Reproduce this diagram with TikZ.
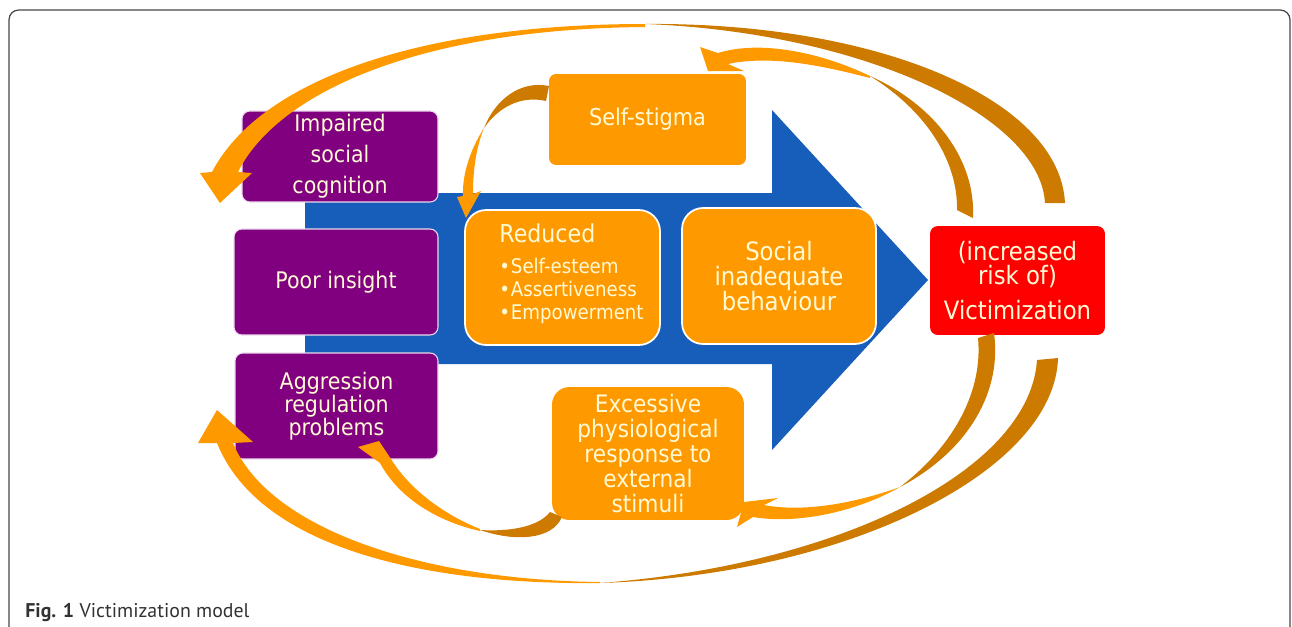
\documentclass[tikz,border=0pt]{standalone}
\usepackage{fontspec}
\newfontfamily\boxfont{DejaVu Sans}[FakeStretch = 0.9]
\newfontfamily\capfont{PT Sans}
\usetikzlibrary{calc}

\definecolor{vpurple}{RGB}{128,0,128}
\definecolor{vorange}{RGB}{255,153,0}
\definecolor{vbrown}{RGB}{204,122,0}
\definecolor{vblue}{RGB}{23,94,187}
\definecolor{vred}{RGB}{255,0,0}
\definecolor{vtext}{RGB}{255,250,212}
\definecolor{vframe}{RGB}{70,70,70}
\definecolor{vcap}{RGB}{50,50,50}

\tikzset {
    box/.style = {rectangle, inner sep = 0pt, align = center, text = vtext},
    purple box/.style = {box, fill = vpurple, draw = white!85!vpurple, line width = 0.6pt, rounded corners = 4.5pt},
    orange box/.style = {box, fill = vorange, rounded corners = 4pt},
    soft box/.style = {box, fill = vorange, rounded corners = 10pt},
    white box/.style = {box, fill = vorange, draw = white, line width = 1pt, rounded corners = 12pt},
    red box/.style = {box, fill = vred, rounded corners = 4.5pt},
    item/.style = {anchor = base west, inner sep = 0pt, text = vtext},
    ribbon front/.style = {fill = vorange},
    ribbon back/.style = {fill = vbrown}
}

\begin{document}
\begin{tikzpicture}[x = 0.02cm, y = -0.02cm]
    \useasboundingbox (0, 0) rectangle (1292, 626);
    \begin{scope}
        \clip (0, 0) rectangle (1292, 626);
        \draw [vframe, line width = 0.7pt, rounded corners = 5.5pt] (9, 10) rectangle (1290, 660);
    \end{scope}
    % blue arrow
    \fill [vblue] (305, 193) -- (772, 193) -- (772, 110) -- (928, 280)
        -- (772, 450) -- (772, 364) -- (305, 364) -- cycle;
    % boxes
    \node (impaired) [purple box, minimum width = 3.92cm, minimum height = 1.82cm,
        font = \boxfont\fontsize{13}{17.6}\selectfont] at (340, 156.5) {Impaired\\social\\cognition};
    \node (insight) [purple box, minimum width = 4.08cm, minimum height = 2.12cm,
        font = \boxfont\fontsize{13}{13.1}\selectfont] at (336, 282) {Poor insight};
    \node (aggression) [purple box, minimum width = 4.06cm, minimum height = 2.12cm,
        font = \boxfont\fontsize{13}{13.1}\selectfont] at (336.5, 406) {Aggression\\regulation\\problems};
    \node (stigma) [orange box, minimum width = 3.94cm, minimum height = 1.82cm,
        font = \boxfont\fontsize{13.2}{13.2}\selectfont] at (647.5, 119.5) {Self-stigma};
    \node (reduced) [white box, minimum width = 3.90cm, minimum height = 2.70cm] at (562.5, 277.5) {};
    \node (social) [white box, minimum width = 3.88cm, minimum height = 2.72cm,
        font = \boxfont\fontsize{14.4}{14.2}\selectfont] at (779, 276) {Social\\inadequate\\behaviour};
    \node (response) [soft box, minimum width = 3.84cm, minimum height = 2.66cm,
        font = \boxfont\fontsize{13.7}{14.2}\selectfont] at (648, 453.5)
        {Excessive\\physiological\\response to\\external\\stimuli};
    \node (victim) [red box, minimum width = 3.50cm, minimum height = 2.18cm,
        font = \boxfont\fontsize{14.4}{13.7}\selectfont] at (1017.5, 280.5)
        {(increased\\risk of)\\[6.5pt]Victimization};
    % text of the reduced box
    \node (reducedtitle) [item, font = \boxfont\fontsize{14}{14}\selectfont] at (499, 242) {Reduced};
    \foreach \y/\txt [count = \i] in {273/Self-esteem, 296/Assertiveness, 319/Empowerment}
        \node (reduceditem\i) [item, font = \boxfont\fontsize{11.5}{11.5}\selectfont]
            at (499, \y) {\textbullet\hspace{0.5pt}\txt};
    % victimization -> impaired social cognition
    \fill [ribbon back] (1065, 203) .. controls (1060, 100) and (880, 22) .. (645, 24)
        .. controls (860, 32) and (1040, 115) .. (1045, 203) -- cycle;
    \fill [ribbon front] (645, 24) .. controls (415, 24) and (259, 82) .. (212, 172)
        -- (200, 173) -- (220, 203) -- (252, 173) -- (238, 172)
        .. controls (275, 97) and (410, 29) .. (645, 27) -- cycle;
    % victimization -> self-stigma
    \fill [ribbon back] (973, 218) .. controls (976, 160) and (935, 105) .. (870, 76)
        .. controls (925, 110) and (958, 160) .. (957, 210) -- cycle;
    \fill [ribbon front] (870, 76) .. controls (820, 52) and (760, 40) .. (718, 53)
        -- (700, 47) -- (708, 71) -- (744, 71) -- (728, 64)
        .. controls (770, 55) and (820, 65) .. (870, 78) -- cycle;
    % self-stigma -> reduced
    \fill [ribbon back] (549, 86) .. controls (520, 80) and (495, 100) .. (484, 128)
        .. controls (498, 108) and (520, 95) .. (546, 101) -- cycle;
    \fill [ribbon front] (484, 128) .. controls (470, 150) and (462, 175) .. (463, 196)
        -- (457, 197) -- (466, 218) -- (481, 191) -- (473, 194)
        .. controls (473, 170) and (476, 148) .. (484, 128) -- cycle;
    % victimization -> excessive response
    \fill [ribbon back] (994, 333) .. controls (1002, 390) and (970, 450) .. (900, 487)
        .. controls (955, 445) and (983, 390) .. (978, 338) -- cycle;
    \fill [ribbon front] (900, 487) .. controls (860, 510) and (800, 525) .. (753, 517)
        -- (737, 527) -- (744, 502) -- (778, 498) -- (764, 505)
        .. controls (800, 512) and (850, 505) .. (900, 487) -- cycle;
    % excessive response -> aggression
    \fill [ribbon back] (562, 517) .. controls (552, 540) and (515, 542) .. (480, 530)
        .. controls (515, 532) and (540, 525) .. (550, 512) -- cycle;
    \fill [ribbon front] (480, 531) .. controls (440, 522) and (400, 500) .. (380, 463)
        -- (358, 447) -- (379, 441) -- (391, 459)
        .. controls (410, 490) and (445, 515) .. (480, 529) -- cycle;
    % victimization -> aggression
    \fill [ribbon back] (1058, 358) .. controls (1055, 470) and (850, 575) .. (600, 583)
        .. controls (840, 565) and (1030, 470) .. (1037, 360) -- cycle;
    \fill [ribbon front] (600, 583) .. controls (430, 585) and (260, 550) .. (217, 443)
        -- (198, 443) -- (217, 410) -- (253, 442) -- (233, 443)
        .. controls (268, 528) and (420, 580) .. (600, 582) -- cycle;
    % caption
    \node (caption) [anchor = base west, inner sep = 0pt, text = vcap,
        font = \capfont\fontsize{11.3}{11.3}\selectfont] at (25, 617) {\textbf{Fig. 1} Victimization model};
\end{tikzpicture}
\end{document}
